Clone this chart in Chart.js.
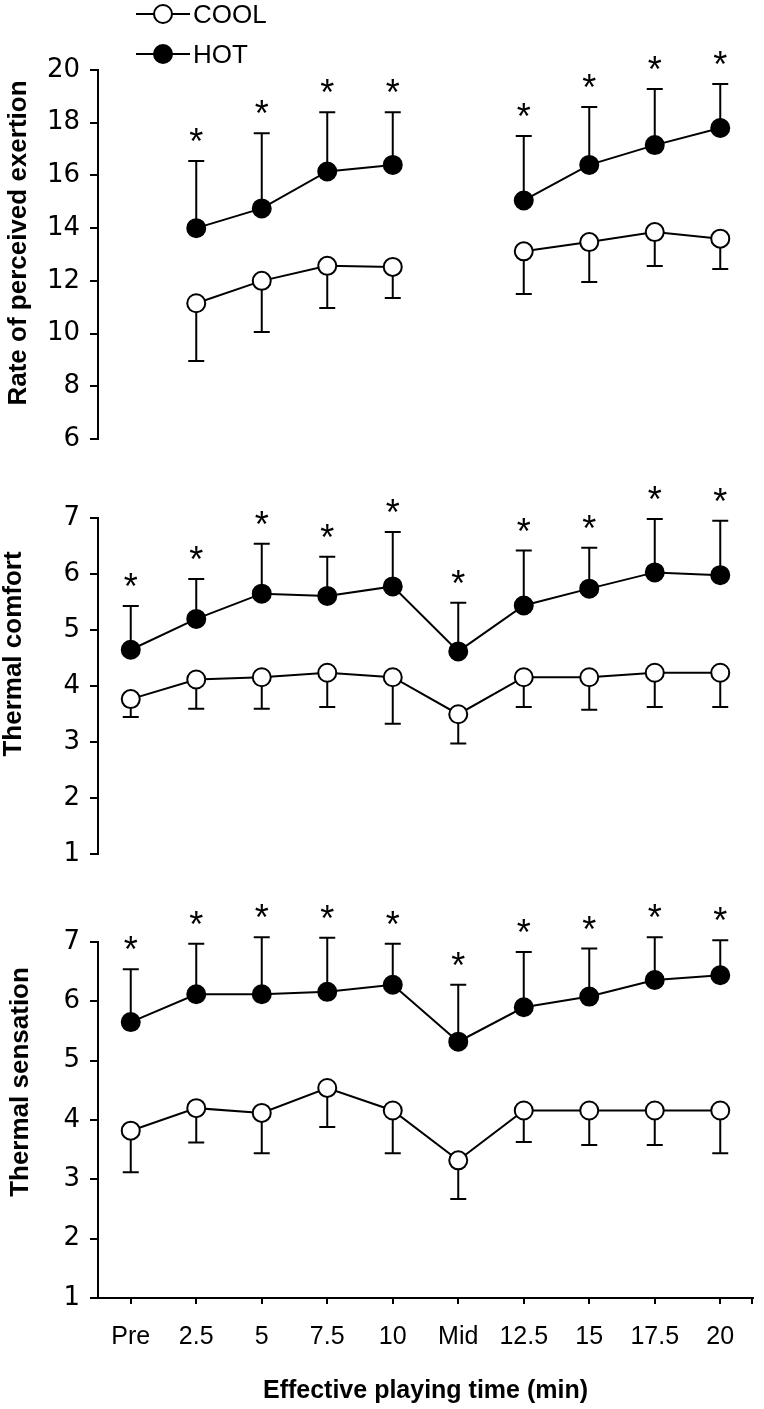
<!DOCTYPE html>
<html>
<head>
<meta charset="utf-8">
<script src="https://cdn.jsdelivr.net/npm/chart.js@4.4.1/dist/chart.umd.min.js"></script>
<style>
  body { margin: 0; background: #fff; }
  #wrap { position: relative; width: 764px; height: 1409px; }
  canvas { position: absolute; left: 0; }
</style>
</head>
<body>
<div id="wrap">
  <canvas id="rpe" width="764" height="470" style="top:0px"></canvas>
  <canvas id="comfort" width="764" height="410" style="top:470px"></canvas>
  <canvas id="sensation" width="764" height="529" style="top:880px"></canvas>
</div>
<script>
const times = ['Pre', '2.5', '5', '7.5', '10', 'Mid', '12.5', '15', '17.5', '20'];

// rate of perceived exertion (not measured at Pre / Mid)
const rpeCool   = [null, 11.15, 12.0, 12.57, 12.53, null, 13.12, 13.47, 13.85, 13.6];
const rpeCoolSd = [null, 2.19, 1.94, 1.6, 1.18, null, 1.62, 1.51, 1.29, 1.15];
const rpeHot    = [null, 14.0, 14.75, 16.15, 16.4, null, 15.05, 16.4, 17.15, 17.8];
const rpeHotSd  = [null, 2.55, 2.85, 2.25, 2.0, null, 2.45, 2.2, 2.13, 1.67];
const rpeTicks  = [6, 20, 2];

// thermal comfort
const comfortCool   = [3.77, 4.12, 4.16, 4.24, 4.16, 3.5, 4.16, 4.16, 4.24, 4.24];
const comfortCoolSd = [0.32, 0.52, 0.56, 0.61, 0.83, 0.52, 0.53, 0.58, 0.61, 0.61];
const comfortHot    = [4.65, 5.2, 5.65, 5.61, 5.78, 4.62, 5.44, 5.74, 6.03, 5.98];
const comfortHotSd  = [0.78, 0.71, 0.89, 0.7, 0.97, 0.87, 0.98, 0.73, 0.95, 0.97];

// thermal sensation
const sensationCool   = [3.82, 4.2, 4.12, 4.54, 4.16, 3.32, 4.16, 4.16, 4.16, 4.16];
const sensationCoolSd = [0.7, 0.58, 0.68, 0.66, 0.72, 0.65, 0.53, 0.58, 0.58, 0.72];
const sensationHot    = [5.65, 6.12, 6.12, 6.16, 6.28, 5.32, 5.9, 6.08, 6.36, 6.44];
const sensationHotSd  = [0.89, 0.85, 0.96, 0.91, 0.69, 0.96, 0.93, 0.81, 0.72, 0.59];
const scaleTicks = [1, 7, 1];

const FONT = 'Arial, "Liberation Sans", sans-serif';
const TICK_FONT = '"DejaVu Sans", Arial, sans-serif';

// error bars: HOT upwards, COOL downwards, with asterisk above HOT
const errorBars = {
  id: 'errorBars',
  beforeDatasetsDraw(chart) {
    const ctx = chart.ctx;
    const y = chart.scales.y;
    ctx.save();
    ctx.strokeStyle = '#000';
    ctx.lineWidth = 2;
    chart.data.datasets.forEach((ds, di) => {
      const meta = chart.getDatasetMeta(di);
      ds.data.forEach((v, i) => {
        if (v == null) return;
        const px = meta.data[i].x;
        const end = y.getPixelForValue(v + ds.sdDir * ds.sd[i]);
        ctx.beginPath();
        ctx.moveTo(px, y.getPixelForValue(v));
        ctx.lineTo(px, end);
        ctx.moveTo(px - 8, end);
        ctx.lineTo(px + 8, end);
        ctx.stroke();
      });
    });
    ctx.restore();
  },
  afterDatasetsDraw(chart) {
    const ctx = chart.ctx;
    const y = chart.scales.y;
    ctx.save();
    ctx.fillStyle = '#000';
    ctx.font = '36px ' + FONT;
    ctx.textAlign = 'center';
    ctx.textBaseline = 'alphabetic';
    chart.data.datasets.forEach((ds, di) => {
      if (ds.sdDir < 0) return;
      const meta = chart.getDatasetMeta(di);
      ds.data.forEach((v, i) => {
        if (v == null) return;
        const top = y.getPixelForValue(v + ds.sd[i]);
        ctx.fillText('*', meta.data[i].x, top - 7);
      });
    });
    ctx.restore();
  }
};

function sideTitle(text, x, y) {
  return {
    id: 'sideTitle',
    afterDraw(chart) {
      const ctx = chart.ctx;
      ctx.save();
      ctx.translate(x, y);
      ctx.rotate(-Math.PI / 2);
      ctx.fillStyle = '#000';
      ctx.font = 'bold 26px ' + FONT;
      ctx.textAlign = 'center';
      ctx.textBaseline = 'middle';
      ctx.fillText(text, 0, 0);
      ctx.restore();
    }
  };
}

const legendBox = {
  id: 'legendBox',
  afterDraw(chart) {
    const ctx = chart.ctx;
    const items = [['COOL', '#fff', 14, 16], ['HOT', '#000', 54, 56]];
    ctx.save();
    items.forEach(([label, fill, ly, ty]) => {
      ctx.strokeStyle = '#000';
      ctx.lineWidth = 2;
      ctx.beginPath();
      ctx.moveTo(136, ly);
      ctx.lineTo(190, ly);
      ctx.stroke();
      ctx.beginPath();
      ctx.arc(163, ly, 9, 0, Math.PI * 2);
      ctx.fillStyle = fill;
      ctx.fill();
      ctx.stroke();
      ctx.fillStyle = '#000';
      ctx.font = '26px ' + FONT;
      ctx.textAlign = 'left';
      ctx.textBaseline = 'middle';
      ctx.fillText(label, 193, ty);
    });
    ctx.restore();
  }
};

const xEndTick = {
  id: 'xEndTick',
  afterDraw(chart) {
    const ctx = chart.ctx;
    const a = chart.chartArea;
    ctx.save();
    ctx.strokeStyle = '#000';
    ctx.lineWidth = 2;
    ctx.beginPath();
    ctx.moveTo(a.right - 1, a.bottom);
    ctx.lineTo(a.right - 1, a.bottom + 6);
    ctx.stroke();
    ctx.restore();
  }
};

function series(label, values, sd, dir, fill) {
  return {
    label: label,
    data: values,
    sd: sd,
    sdDir: dir,
    borderColor: '#000',
    borderWidth: 2,
    backgroundColor: fill,
    pointBackgroundColor: fill,
    pointBorderColor: '#000',
    pointBorderWidth: 2,
    pointRadius: 9,
    pointHoverRadius: 9,
    spanGaps: false,
    tension: 0
  };
}

function panel(id, cool, coolSd, hot, hotSd, ticks, padding, extraPlugins, showX) {
  const xScale = {
    display: showX,
    offset: true,
    grid: { display: true, drawOnChartArea: false, offset: false, color: '#000', lineWidth: 2, tickLength: 6 },
    border: { display: true, color: '#000', width: 2 },
    ticks: { color: '#000', padding: 18, font: { family: FONT, size: 25 } },
    title: {
      display: true,
      text: 'Effective playing time (min)',
      color: '#000',
      font: { family: FONT, size: 25, weight: 'bold' },
      padding: { top: 0, bottom: 3 }
    }
  };
  if (showX) xScale.afterFit = s => { s.height = 111; };

  return new Chart(document.getElementById(id).getContext('2d'), {
    type: 'line',
    data: {
      labels: times,
      datasets: [
        series('COOL', cool, coolSd, -1, '#fff'),
        series('HOT', hot, hotSd, 1, '#000')
      ]
    },
    options: {
      responsive: false,
      animation: false,
      layout: { padding: padding },
      plugins: { legend: { display: false }, tooltip: { enabled: false } },
      scales: {
        x: xScale,
        y: {
          min: ticks[0],
          max: ticks[1],
          afterFit: s => { s.width = 98; },
          grid: { display: true, drawOnChartArea: false, color: '#000', lineWidth: 2, tickLength: 8 },
          border: { display: true, color: '#000', width: 2 },
          ticks: { stepSize: ticks[2], color: '#000', padding: 10, font: { family: TICK_FONT, size: 26 } }
        }
      }
    },
    plugins: [errorBars].concat(extraPlugins)
  });
}

panel('rpe', rpeCool, rpeCoolSd, rpeHot, rpeHotSd, rpeTicks,
  { top: 70, bottom: 31, left: 0, right: 4 },
  [sideTitle('Rate of perceived exertion', 19, 243), legendBox], false);

panel('comfort', comfortCool, comfortCoolSd, comfortHot, comfortHotSd, scaleTicks,
  { top: 48, bottom: 21, left: 0, right: 4 },
  [sideTitle('Thermal comfort', 14, 654 - 470)], false);

panel('sensation', sensationCool, sensationCoolSd, sensationHot, sensationHotSd, scaleTicks,
  { top: 62, bottom: 0, left: 0, right: 4 },
  [sideTitle('Thermal sensation', 21, 1082 - 880), xEndTick], true);
</script>
</body>
</html>
